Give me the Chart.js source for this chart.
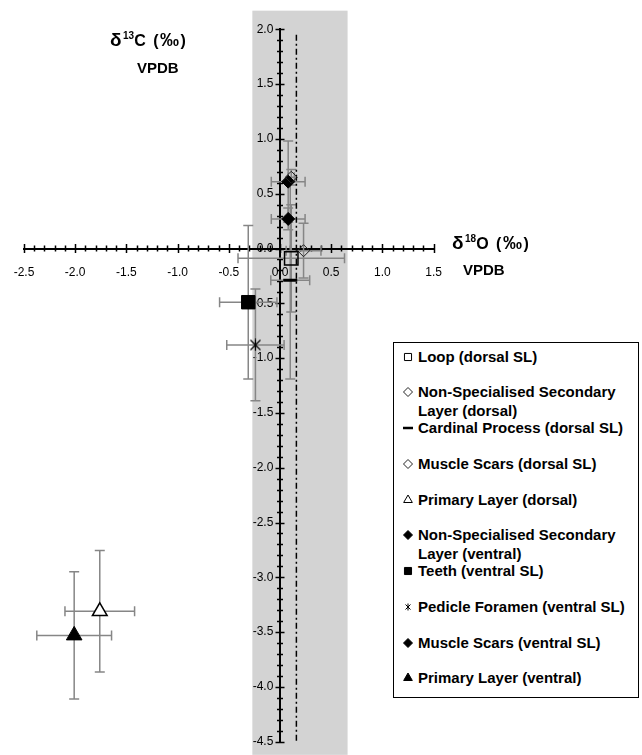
<!DOCTYPE html>
<html>
<head>
<meta charset="utf-8">
<script src="https://cdn.jsdelivr.net/npm/chart.js"></script>
<style>
html,body{margin:0;padding:0;background:#fff;}
#wrap{position:relative;width:642px;height:755px;overflow:hidden;font-family:"Liberation Sans",Arial,sans-serif;}
#chart{position:absolute;left:0;top:0;}
.ttl{position:absolute;font-weight:bold;font-size:15px;line-height:18px;color:#000;white-space:nowrap;}
.ttl.l1{font-size:16px;letter-spacing:1.5px;}
.ttl .big{font-size:19px;}
.ttl sup{font-size:10px;line-height:0;vertical-align:7px;letter-spacing:0;}
#legend{position:absolute;left:393px;top:342px;width:246px;height:356px;border:1px solid #000;box-sizing:border-box;background:#fff;}
.li{position:absolute;left:0;width:240px;font-weight:bold;font-size:15px;line-height:19px;color:#000;}
.li canvas{position:absolute;left:7px;top:4px;}
.li span{position:absolute;left:24px;width:214px;display:block;}
</style>
</head>
<body>
<div id="wrap">
  <canvas id="chart" width="642" height="755"></canvas>
  <div class="ttl l1" style="left:110px;top:31px;"><span class="big">δ</span><sup>13</sup>C (<span class="big">‰</span>)</div>
  <div class="ttl" style="left:137px;top:59px;">VPDB</div>
  <div class="ttl l1" style="left:452px;top:234px;"><span class="big">δ</span><sup>18</sup>O (<span class="big">‰</span>)</div>
  <div class="ttl" style="left:463px;top:261px;">VPDB</div>
  <div id="legend"></div>
</div>
<script>
// ---- data ----
const seriesLabels = [
  'Loop (dorsal SL)',
  'Non-Specialised Secondary Layer (dorsal)',
  'Cardinal Process (dorsal SL)',
  'Muscle Scars (dorsal SL)',
  'Primary Layer (dorsal)',
  'Non-Specialised Secondary Layer (ventral)',
  'Teeth (ventral SL)',
  'Pedicle Foramen (ventral SL)',
  'Muscle Scars (ventral SL)',
  'Primary Layer (ventral)'
];
const d18O = [0.11, 0.23, 0.10, 0.11, -1.76, 0.08, -0.31, -0.24, 0.08, -2.01];
const d13C = [-0.09, -0.02, -0.29, 0.65, -3.31, 0.27, -0.49, -0.88, 0.61, -3.53];
const errO = [0.52, 0.17, 0.19, 0.03, 0.34, 0.165, 0.28, 0.28, 0.165, 0.365];
const errC = [0.49, 0.25, 0.90, 0.07, 0.555, 0.10, 0.70, 0.51, 0.37, 0.58];
const xAxisRange = [-2.5, 1.5];
const yAxisRange = [-4.5, 2.0];
const tickStep = 0.1;
const labelStep = 0.5;
const bandO = [-0.27, 0.66];
const bandC = [2.17, -4.62];
const refLineO = [0.16, 0.16];
const refLineC = [1.95, -4.5];

// ---- marker styles ----
function makeAsterisk(size, lw) {
  const c = document.createElement('canvas');
  c.width = size; c.height = size;
  const g = c.getContext('2d');
  g.strokeStyle = '#000'; g.lineWidth = lw;
  const m = 1.5, s = size - 1.5;
  g.beginPath();
  g.moveTo(m, m); g.lineTo(s, s);
  g.moveTo(s, m); g.lineTo(m, s);
  g.moveTo(size / 2, m - 1); g.lineTo(size / 2, s + 1);
  g.stroke();
  return c;
}
const HOLLOW = 'rgba(0,0,0,0)';
const markerStyles = [
  {pointStyle: 'rect', radius: 9.5, bg: HOLLOW, border: '#000', bw: 1.5, lr: 5},
  {pointStyle: 'rectRot', radius: 6, bg: HOLLOW, border: '#222', bw: 1, lr: 4.5},
  {pointStyle: 'line', radius: 7, bg: '#000', border: '#000', bw: 3, lr: 5},
  {pointStyle: 'rectRot', radius: 6, bg: HOLLOW, border: '#222', bw: 1, lr: 4.5},
  {pointStyle: 'triangle', radius: 8.5, bg: '#fff', border: '#000', bw: 1.5, lr: 5},
  {pointStyle: 'rectRot', radius: 6.5, bg: '#000', border: '#000', bw: 1, lr: 4.5},
  {pointStyle: 'rect', radius: 9.5, bg: '#000', border: '#000', bw: 1, lr: 5},
  {pointStyle: makeAsterisk(13, 1.2), legendStyle: makeAsterisk(8, 1), radius: 7, bg: '#000', border: '#000', bw: 1, lr: 4},
  {pointStyle: 'rectRot', radius: 6.5, bg: '#000', border: '#000', bw: 1, lr: 4.5},
  {pointStyle: 'triangle', radius: 9, bg: '#000', border: '#000', bw: 1, lr: 5}
];

const datasets = seriesLabels.map((lab, i) => ({
  type: 'scatter',
  label: lab,
  data: [{x: d18O[i], y: d13C[i]}],
  errX: [errO[i]],
  errY: [errC[i]],
  pointStyle: markerStyles[i].pointStyle,
  radius: markerStyles[i].radius,
  pointRadius: markerStyles[i].radius,
  pointHoverRadius: markerStyles[i].radius,
  backgroundColor: markerStyles[i].bg,
  borderColor: markerStyles[i].border,
  borderWidth: markerStyles[i].bw,
  order: 1
}));
datasets.push({
  type: 'line',
  label: 'ref',
  isRef: true,
  data: refLineO.map((x, i) => ({x: x, y: refLineC[i]})),
  borderColor: '#000',
  borderWidth: 1.5,
  borderDash: [6, 3, 2, 3],
  pointRadius: 0,
  fill: false,
  order: 2
});

// ---- plugins ----
const bandPlugin = {
  id: 'band',
  beforeDraw(chart) {
    const {ctx, scales: {x, y}} = chart;
    const x0 = x.getPixelForValue(bandO[0]), x1 = x.getPixelForValue(bandO[1]);
    const y0 = y.getPixelForValue(bandC[0]), y1 = y.getPixelForValue(bandC[1]);
    ctx.save();
    ctx.fillStyle = '#d3d3d3';
    ctx.fillRect(x0, y0, x1 - x0, y1 - y0);
    ctx.restore();
  }
};

function isMajor(v) {
  const r = v / labelStep;
  return Math.abs(r - Math.round(r)) < 1e-6;
}

const crossTickPlugin = {
  id: 'crossTicks',
  beforeDatasetsDraw(chart) {
    const {ctx, scales: {x, y}} = chart;
    const ax = y.getPixelForValue(0);
    const ay = x.getPixelForValue(0);
    ctx.save();
    ctx.strokeStyle = '#000';
    ctx.lineWidth = 1.5;
    ctx.beginPath();
    x.ticks.forEach(t => {
      const px = Math.round(x.getPixelForValue(t.value)) + 0.5;
      const h = isMajor(t.value) ? 4.5 : 3;
      ctx.moveTo(px, ax - h); ctx.lineTo(px, ax + h);
    });
    y.ticks.forEach(t => {
      const py = Math.round(y.getPixelForValue(t.value)) + 0.5;
      const h = isMajor(t.value) ? 4.5 : 3;
      ctx.moveTo(ay - h, py); ctx.lineTo(ay + h, py);
    });
    ctx.stroke();
    ctx.restore();
  }
};

const errorBarPlugin = {
  id: 'errorBars',
  beforeDatasetsDraw(chart) {
    const {ctx, scales: {x, y}} = chart;
    const cap = 5;
    ctx.save();
    ctx.strokeStyle = '#868686';
    ctx.lineWidth = 1.5;
    chart.data.datasets.forEach(ds => {
      if (!ds.errX) return;
      ds.data.forEach((p, j) => {
        const ex = ds.errX[j], ey = ds.errY[j];
        const xl = x.getPixelForValue(p.x - ex), xr = x.getPixelForValue(p.x + ex);
        const yt = y.getPixelForValue(p.y + ey), yb = y.getPixelForValue(p.y - ey);
        const cx = x.getPixelForValue(p.x), cy = y.getPixelForValue(p.y);
        ctx.beginPath();
        ctx.moveTo(xl, cy); ctx.lineTo(xr, cy);
        ctx.moveTo(xl, cy - cap); ctx.lineTo(xl, cy + cap);
        ctx.moveTo(xr, cy - cap); ctx.lineTo(xr, cy + cap);
        ctx.moveTo(cx, yt); ctx.lineTo(cx, yb);
        ctx.moveTo(cx - cap, yt); ctx.lineTo(cx + cap, yt);
        ctx.moveTo(cx - cap, yb); ctx.lineTo(cx + cap, yb);
        ctx.stroke();
      });
    });
    ctx.restore();
  }
};

const tickFont = {family: '"Liberation Sans", Arial, sans-serif', size: 12};

const chart = new Chart(document.getElementById('chart'), {
  data: {datasets: datasets},
  options: {
    responsive: false,
    animation: false,
    events: [],
    layout: {padding: {left: 24, right: 208.4, top: 29.3, bottom: 13.3}},
    plugins: {legend: {display: false}, tooltip: {enabled: false}},
    scales: {
      x: {
        type: 'linear',
        position: {y: 0},
        min: xAxisRange[0], max: xAxisRange[1],
        afterFit(s) { s.height = 0; s.paddingLeft = 0; s.paddingRight = 0; },
        grid: {display: false, drawTicks: false},
        border: {display: true, color: '#000', width: 2},
        ticks: {
          stepSize: tickStep, autoSkip: false, maxRotation: 0, minRotation: 0,
          maxTicksLimit: 200, padding: 17, color: '#000', font: tickFont,
          callback: v => isMajor(v) ? Number(v).toFixed(1) : ''
        }
      },
      y: {
        type: 'linear',
        position: {x: 0},
        min: yAxisRange[0], max: yAxisRange[1],
        afterFit(s) { s.width = 0; s.paddingTop = 0; s.paddingBottom = 0; },
        grid: {display: false, drawTicks: false},
        border: {display: true, color: '#000', width: 2},
        ticks: {
          stepSize: tickStep, autoSkip: false, maxTicksLimit: 200, padding: 8,
          color: '#000', font: tickFont,
          callback: v => isMajor(v) ? Number(v).toFixed(1) + '  ' : ''
        }
      }
    }
  },
  plugins: [bandPlugin, crossTickPlugin, errorBarPlugin]
});

// ---- HTML legend built from the chart datasets ----
const legendEl = document.getElementById('legend');
const slot = 35.75;
chart.data.datasets.forEach((ds, i) => {
  if (ds.isRef) return;
  const ms = markerStyles[i];
  const item = document.createElement('div');
  item.className = 'li';
  item.style.top = (3.5 + i * slot) + 'px';
  const c = document.createElement('canvas');
  c.width = 14; c.height = 12;
  const g = c.getContext('2d');
  g.fillStyle = ms.bg === '#fff' ? HOLLOW : ms.bg;
  g.strokeStyle = ms.border;
  g.lineWidth = ms.pointStyle === 'line' ? 2.5 : 1;
  Chart.helpers.drawPoint(g, {
    pointStyle: ms.legendStyle || ms.pointStyle,
    radius: ms.lr, rotation: 0, borderWidth: g.lineWidth
  }, 7, 6);
  item.appendChild(c);
  const sp = document.createElement('span');
  sp.textContent = ds.label;
  item.appendChild(sp);
  legendEl.appendChild(item);
});
</script>
</body>
</html>
